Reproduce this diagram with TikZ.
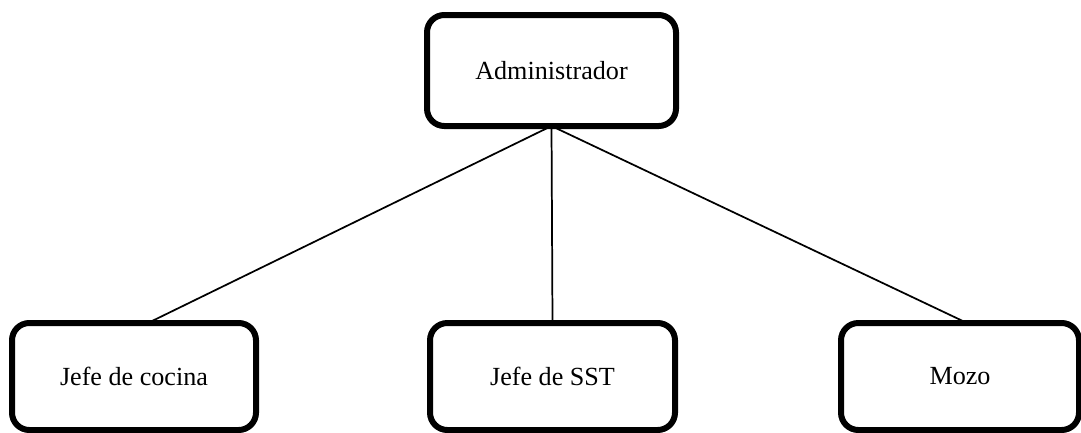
\documentclass[tikz,border=0pt]{standalone}
\usepackage{fontspec}
\setmainfont{Liberation Serif}
\begin{document}
\begin{tikzpicture}[x=0.75pt,y=-0.75pt,
  rolebox/.style={draw=black, line width=4.5pt, rounded corners=13pt,
    fill=white, outer sep=0pt, inner sep=0pt, align=center,
    font=\fontsize{19.6}{23}\selectfont},
  link/.style={draw=black, line width=1.3pt}]
  \useasboundingbox (0,0) rectangle (1081,432);
  \clip (0,0) rectangle (1081,432);

  % top of the chart
  \node[rolebox, minimum width=186.75pt, minimum height=83.25pt]
    (admin) at (551.5,70.5) {Administrador};

  % second level
  \node[rolebox, minimum width=183pt, minimum height=80.25pt]
    (cocina) at (134,376.5) {Jefe de cocina};
  \node[rolebox, minimum width=183.75pt, minimum height=80.25pt]
    (sst) at (552.5,376.5) {Jefe de SST};
  \node[rolebox, minimum width=178.5pt, minimum height=80.25pt]
    (mozo) at (960,376.5) {Mozo};

  % reporting lines
  \draw[link] (admin.south) -- ([xshift=10.5pt]cocina.north);
  \draw[link] (admin.south) -- (sst.north);
  \draw[link] (admin.south) -- ([xshift=5.25pt]mozo.north);
\end{tikzpicture}
\end{document}
